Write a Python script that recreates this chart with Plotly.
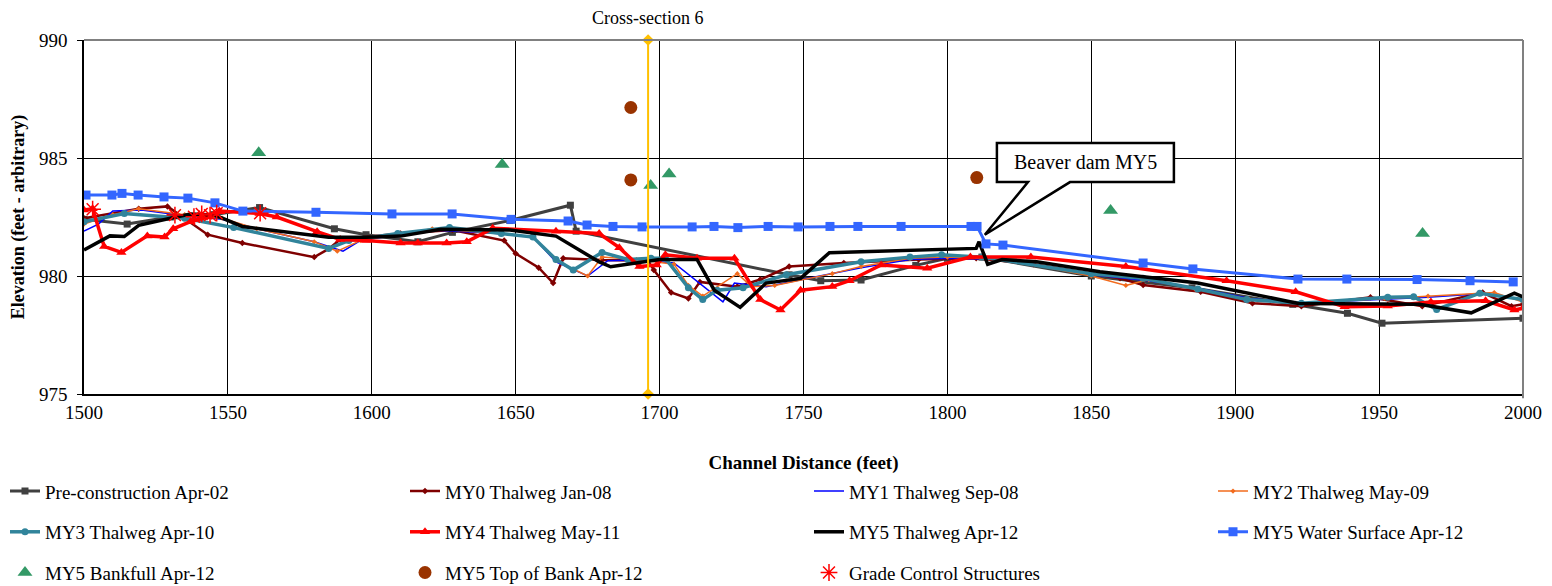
import plotly.graph_objects as go

# ---------------- data ----------------
pre_x = [1500, 1515, 1530, 1545, 1561, 1587, 1598, 1616, 1628, 1648, 1669, 1671, 1745, 1756, 1770, 1789, 1800, 1812, 1850, 1885, 1920, 1939, 1951, 2000]
pre_y = [982.4, 982.2, 982.5, 982.6, 982.9, 982.0, 981.75, 981.45, 981.85, 982.35, 983.0, 981.9, 980.05, 979.8, 979.83, 980.45, 980.75, 980.8, 980.0, 979.5, 978.8, 978.42, 978.0, 978.21]

my0_x = [1500, 1519, 1529, 1543, 1555, 1580, 1585, 1589, 1610, 1628, 1646, 1650, 1658, 1663, 1666.5, 1680, 1696, 1698, 1704, 1710, 1714, 1727, 1735, 1745, 1764, 1790, 1810, 1830, 1860, 1868, 1888, 1906, 1923, 1947, 1965, 1986, 1996, 2000]
my0_y = [982.45, 982.85, 982.95, 981.75, 981.4, 980.8, 981.15, 981.55, 981.8, 981.95, 981.5, 980.95, 980.35, 979.7, 980.75, 980.68, 980.65, 980.25, 979.3, 979.05, 979.75, 979.55, 979.85, 980.4, 980.55, 980.7, 980.75, 980.5, 979.9, 979.62, 979.33, 978.85, 978.72, 979.1, 978.72, 979.3, 978.72, 978.8]

my1_x = [1500, 1505, 1510, 1520, 1535, 1548, 1560, 1580, 1590, 1596, 1621, 1644, 1656, 1664, 1675, 1682, 1692, 1705, 1722, 1726, 1737, 1758, 1770, 1787, 1800, 1820, 1850, 1870, 1886, 1905, 1923, 1950, 1967, 1985, 2000]
my1_y = [981.9, 982.2, 982.75, 982.8, 982.55, 982.4, 982.0, 981.45, 981.05, 981.5, 981.95, 981.8, 981.65, 980.6, 980.0, 980.65, 980.68, 980.55, 978.9, 979.7, 979.55, 980.05, 980.35, 980.7, 980.75, 980.7, 980.05, 979.8, 979.5, 979.05, 978.85, 979.0, 979.1, 979.25, 979.0]

my2_x = [1500, 1510, 1519, 1535, 1548, 1560, 1580, 1588, 1596, 1621, 1645, 1656, 1664, 1675, 1680, 1692, 1705, 1710, 1715, 1727, 1732, 1740, 1760, 1770, 1787, 1800, 1820, 1850, 1862, 1870, 1886, 1905, 1923, 1952, 1967, 1990, 2000]
my2_y = [982.2, 982.6, 982.85, 982.6, 982.45, 982.0, 981.45, 981.05, 981.5, 982.0, 981.8, 981.65, 980.65, 980.0, 980.8, 980.7, 980.5, 979.6, 979.15, 980.1, 979.55, 979.6, 980.1, 980.4, 980.75, 980.8, 980.7, 980.0, 979.6, 979.85, 979.45, 979.0, 978.85, 979.05, 979.15, 979.3, 978.9]

my3_x = [1500, 1514, 1535, 1552, 1585, 1592, 1609, 1627, 1645, 1656, 1664, 1670, 1680, 1689, 1697, 1702, 1710, 1715, 1720, 1729, 1744, 1770, 1787, 1798, 1812, 1850, 1868, 1887, 1904, 1923, 1953, 1962, 1970, 1985, 2000]
my3_y = [982.3, 982.65, 982.45, 982.05, 981.17, 981.5, 981.8, 982.05, 981.8, 981.65, 980.7, 980.25, 981.0, 980.7, 980.75, 980.75, 979.5, 979.0, 979.4, 979.5, 980.05, 980.6, 980.8, 980.9, 980.8, 980.1, 979.9, 979.45, 979.0, 978.85, 979.1, 979.12, 978.58, 979.27, 979.0]

my4_x = [1500, 1503, 1507, 1513, 1522, 1528, 1531, 1537, 1543, 1547, 1561, 1567, 1581, 1589, 1598, 1610, 1616, 1626, 1633, 1642, 1664, 1679, 1686, 1693, 1699, 1702, 1713, 1726, 1735, 1742, 1749, 1760, 1766, 1777, 1793, 1808, 1829, 1862, 1897, 1921, 1938, 1953, 1968, 1987, 1997, 2000]
my4_y = [982.8, 982.85, 981.25, 981.0, 981.7, 981.65, 982.0, 982.3, 982.5, 982.75, 982.65, 982.5, 981.88, 981.55, 981.5, 981.4, 981.4, 981.4, 981.45, 982.02, 981.9, 981.8, 981.2, 980.4, 980.47, 980.9, 980.75, 980.75, 979.0, 978.56, 979.4, 979.55, 979.8, 980.47, 980.33, 980.8, 980.8, 980.4, 979.8, 979.33, 978.7, 978.73, 978.9, 978.95, 978.56, 978.64]

my5_x = [1500, 1509, 1514, 1519, 1530, 1537, 1545, 1547, 1555, 1585, 1598, 1610, 1624, 1648, 1664, 1679, 1683, 1700, 1713, 1719, 1728, 1737, 1749, 1759, 1770, 1810, 1811, 1814, 1819, 1831, 1853, 1887, 1922, 1953, 1964, 1982, 1997, 2000]
my5_y = [981.1, 981.7, 981.67, 982.15, 982.45, 982.63, 982.58, 982.5, 982.1, 981.64, 981.64, 981.69, 981.98, 981.95, 981.69, 980.6, 980.39, 980.7, 980.7, 979.4, 978.67, 979.7, 979.9, 980.99, 981.03, 981.17, 981.45, 980.5, 980.7, 980.6, 980.18, 979.7, 978.84, 978.81, 978.8, 978.44, 979.27, 979.12]

ws_x = [1500.7, 1509.7, 1513.2, 1518.8, 1527.8, 1536.1, 1545.5, 1555.2, 1580.6, 1607, 1627.9, 1648.4, 1668.2, 1674.8, 1683.8, 1693.9, 1711.3, 1718.9, 1727.2, 1737.7, 1748.1, 1759.2, 1768.9, 1783.9, 1808.2, 1810.3, 1813.4, 1819.3, 1868, 1885.3, 1921.8, 1938.8, 1963.2, 1981.6, 1996.6]
ws_y = [983.43, 983.43, 983.5, 983.43, 983.35, 983.3, 983.1, 982.75, 982.7, 982.63, 982.63, 982.4, 982.33, 982.16, 982.1, 982.08, 982.08, 982.1, 982.05, 982.1, 982.08, 982.1, 982.1, 982.1, 982.1, 982.1, 981.36, 981.31, 980.55, 980.3, 979.87, 979.87, 979.85, 979.8, 979.75]

bkf_x = [1560.7, 1645.3, 1696.9, 1703.3, 1856.7, 1965.1]
bkf_y = [985.22, 984.72, 983.83, 984.32, 982.78, 981.8]

tob_x = [1690, 1690, 1810.2]
tob_y = [987.14, 984.07, 984.17]

gcs_x = [1503, 1531.6, 1538.2, 1540.9, 1543.8, 1546.1, 1561.2]
gcs_y = [982.83, 982.58, 982.51, 982.63, 982.58, 982.66, 982.66]

xs6_x = [1696, 1696]
xs6_y = [975, 990]

beaver_tip = (1811, 981.45)

SERIF = "Liberation Serif, Times New Roman, DejaVu Serif, serif"

fig = go.Figure()

def line_trace(name, x, y, color, width, symbol, msize, legend):
    mode = "lines+markers" if symbol else "lines"
    marker = dict(symbol=symbol, size=msize, color=color) if symbol else None
    fig.add_trace(go.Scatter(x=x, y=y, name=name, mode=mode, legendgroup=name,
                             line=dict(color=color, width=width),
                             marker=marker, legend=legend))

# legend columns: legend (col 1), legend2 (col 2), legend3 (col 3), legend4 (col 4)
line_trace("Pre-construction Apr-02", pre_x, pre_y, "#404040", 3, "square", 7, "legend")
line_trace("MY0 Thalweg Jan-08", my0_x, my0_y, "#7F0000", 2.5, "diamond", 5, "legend2")
line_trace("MY1 Thalweg Sep-08", my1_x, my1_y, "#0000FF", 1.5, "line-ew", 4, "legend3")
line_trace("MY2 Thalweg May-09", my2_x, my2_y, "#F26B1D", 1.5, "diamond", 4, "legend4")
line_trace("MY3 Thalweg Apr-10", my3_x, my3_y, "#31849B", 3.5, "circle", 7, "legend")
line_trace("MY4 Thalweg May-11", my4_x, my4_y, "#FF0000", 3.5, "triangle-up", 9, "legend2")
line_trace("MY5 Thalweg Apr-12", my5_x, my5_y, "#000000", 3.5, None, 0, "legend3")
line_trace("MY5 Water Surface Apr-12", ws_x, ws_y, "#3366FF", 3, "square", 9, "legend4")

fig.add_trace(go.Scatter(x=bkf_x, y=bkf_y, name="MY5 Bankfull Apr-12", mode="markers",
                         legendgroup="bkf",
                         marker=dict(symbol="triangle-up", size=13, color="#339966"), legend="legend"))
fig.add_trace(go.Scatter(x=tob_x, y=tob_y, name="MY5 Top of Bank Apr-12", mode="markers",
                         legendgroup="tob",
                         marker=dict(symbol="circle", size=13, color="#993300"), legend="legend2"))
fig.add_trace(go.Scatter(x=gcs_x, y=gcs_y, name="Grade Control Structures", mode="markers",
                         legendgroup="gcs",
                         marker=dict(symbol="asterisk-open", size=14, color="#FF0000",
                                     line=dict(color="#FF0000", width=1.5)), legend="legend3"))

fig.add_trace(go.Scatter(x=xs6_x, y=xs6_y, mode="lines+markers", showlegend=False,
                         line=dict(color="#FFC000", width=2),
                         marker=dict(symbol="diamond", size=9, color="#FFC000"), cliponaxis=False))

# callout box with wedge pointing to the beaver dam
bx0, bx1, by0, by1 = 1817.2, 1878.7, 983.98, 985.64
wx0, wx1 = 1828.0, 1842.6
tx, ty = beaver_tip[0] + 2, beaver_tip[1] + 0.3
path = (f"M {bx0},{by1} L {bx1},{by1} L {bx1},{by0} L {wx1},{by0} "
        f"L {tx},{ty} L {wx0},{by0} L {bx0},{by0} Z")
fig.add_shape(type="path", path=path, xref="x", yref="y",
              line=dict(color="black", width=2.5), fillcolor="white", layer="above")
fig.add_annotation(x=(bx0 + bx1) / 2, y=(by0 + by1) / 2, xref="x", yref="y",
                   text="Beaver dam MY5", showarrow=False,
                   font=dict(family=SERIF, size=20, color="black"))

fig.add_annotation(x=xs6_x[0], y=1, xref="x", yref="paper", yanchor="middle", yshift=22,
                   text="Cross-section 6", showarrow=False, borderpad=0,
                   font=dict(family=SERIF, size=18, color="black"))

# top/right gray border
fig.add_shape(type="line", xref="paper", yref="paper", x0=0, x1=1, y0=1, y1=1,
              line=dict(color="#808080", width=2), layer="above")
fig.add_shape(type="line", xref="paper", yref="paper", x0=1, x1=1, y0=-0.012, y1=1,
              line=dict(color="#808080", width=2), layer="above")

PW = 1439.0  # plot width in px
def col_x(px):
    return (px - 84) / PW

leg_common = dict(orientation="v", xanchor="left", yanchor="top", y=-0.221,
                  tracegroupgap=13,
                  font=dict(family=SERIF, size=19, color="black"),
                  bgcolor="rgba(0,0,0,0)", itemwidth=30)

fig.update_layout(
    width=1544, height=578,
    margin=dict(l=76, r=29, t=32, b=192, autoexpand=False),
    paper_bgcolor="white", plot_bgcolor="white",
    font=dict(family=SERIF, size=19, color="black"),
    xaxis=dict(range=[1500, 2000], dtick=50, tick0=1500, showgrid=True, gridcolor="black", gridwidth=1,
               showline=True, linecolor="black", linewidth=1.5, ticks="",
               tickfont=dict(family=SERIF, size=19),
               zeroline=False,
               title=dict(text="<b>Channel Distance (feet)</b>", standoff=34,
                          font=dict(family=SERIF, size=19))),
    yaxis=dict(range=[975, 990], dtick=5, tick0=975, showgrid=True, gridcolor="black", gridwidth=1,
               showline=True, linecolor="black", linewidth=1.5, ticks="outside", ticklen=5,
               tickcolor="black", zeroline=False, ticklabelstandoff=6,
               tickfont=dict(family=SERIF, size=19),
               title=dict(text="<b>Elevation (feet - arbitrary)</b>", standoff=12,
                          font=dict(family=SERIF, size=18))),
    legend=dict(x=col_x(5), **leg_common),
    legend2=dict(x=col_x(405), **leg_common),
    legend3=dict(x=col_x(809), **leg_common),
    legend4=dict(x=col_x(1213), **leg_common),
)

fig.write_html("out.html")
